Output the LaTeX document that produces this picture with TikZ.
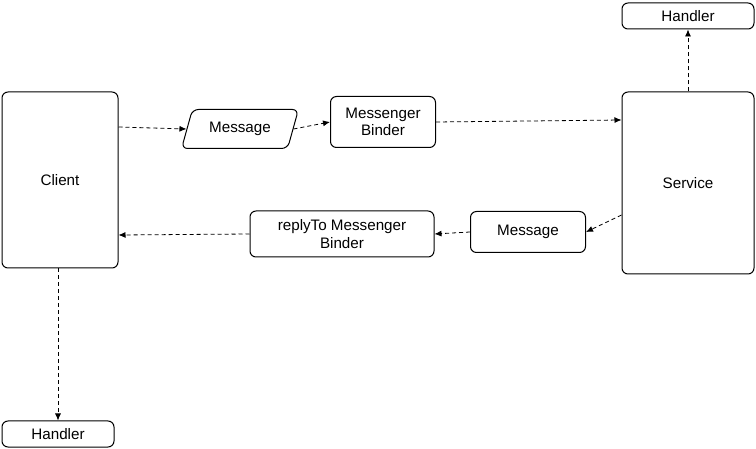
\documentclass[tikz,border=0pt]{standalone}
\usepackage{fontspec}
\setmainfont{Liberation Sans}
\usetikzlibrary{arrows.meta,positioning,shapes.geometric}

\begin{document}
\begin{tikzpicture}[
  x=1pt,y=-1pt,
  box/.style={draw,line width=1pt,rounded corners=6pt,align=center,font=\fontsize{15.2}{17.5}\selectfont,inner sep=2pt},
  slanted/.style={box,trapezium,trapezium left angle=67,trapezium right angle=113,trapezium stretches=true},
  arrow/.style={-{Latex[length=7pt,width=6pt]},line width=0.8pt,dash pattern=on 4pt off 3pt}
]
\useasboundingbox (0,0) rectangle (756,449);
\node[box,minimum width=116pt,minimum height=176pt] (client) at (60,180) {Client};
\node[box,minimum width=132pt,minimum height=182pt] (service) at (688,183) {Service};
\node[box,minimum width=132pt,minimum height=26pt] (handlertop) at (688,16) {Handler};
\node[box,minimum width=112pt,minimum height=26pt] (handlerbot) at (58,434) {Handler};
\node[slanted,minimum width=117pt,minimum height=39pt] (msgout) at (240,129) {Message};
\node[box,minimum width=105pt,minimum height=51pt] (binder) at (383,122) {Messenger\\Binder};
\node[box,minimum width=115pt,minimum height=41pt] (msgback) at (528,232) {Message};
\node[box,minimum width=184pt,minimum height=46pt] (replyto) at (342,234) {replyTo Messenger\\Binder};
\draw[arrow] ([yshift=53pt]client.east) -- (msgout.west);
\draw[arrow] (msgout.east) -- (binder.west);
\draw[arrow] (binder.east) -- ([yshift=63pt]service.west);
\draw[arrow] ([yshift=-32pt]service.west) -- (msgback.east);
\draw[arrow] (msgback.west) -- (replyto.east);
\draw[arrow] (replyto.west) -- ([yshift=-55pt]client.east);
\draw[arrow] (client.south -| handlerbot.north) -- (handlerbot.north);
\draw[arrow] (service.north) -- (handlertop.south);
\end{tikzpicture}
\end{document}
